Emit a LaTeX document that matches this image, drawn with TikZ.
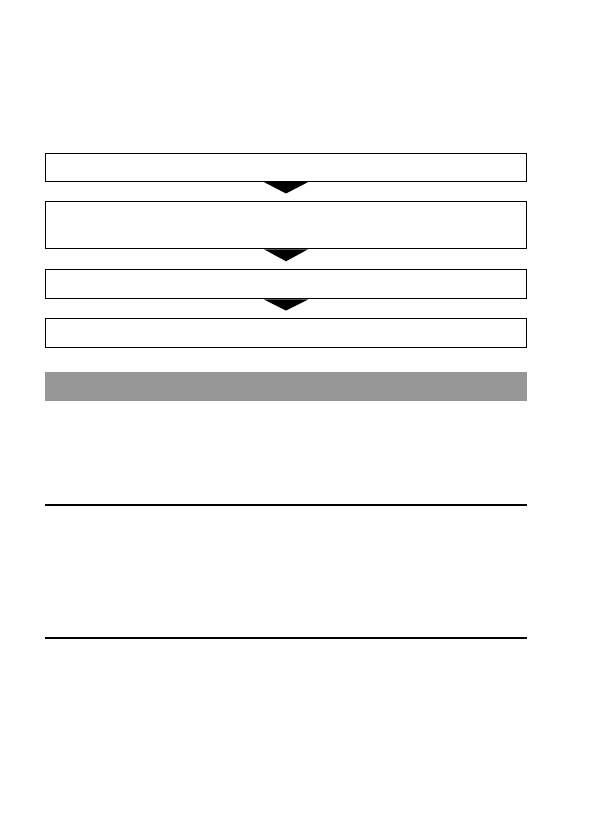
\documentclass[tikz,border=0pt]{standalone}
\usepackage{xcolor}
\usepackage{tikz}
\usetikzlibrary{positioning}
\usetikzlibrary{calc}
\definecolor{barGray}{HTML}{979797}

\begin{document}
\begin{tikzpicture}
		% ------- style -------
		\tikzset{%
			stepbox/.style={%
				draw, line width=1.2pt,
				minimum width=481pt, inner sep=0pt,
			},
			pointer/.style={fill=black},
			rule/.style={line width=1.3pt},
			node distance = 19pt,
		}
		\useasboundingbox (0,0) rectangle (596pt,840pt);
		
		% ------- flow -------
		\node[stepbox, minimum height=28pt] (s1) at (286pt,672.5pt) {};
		\node[stepbox, minimum height=47pt] (s2) [below = of s1] {};
		\node[stepbox, minimum height=29pt] (s3) [below = 20pt of s2] {};
		\node[stepbox, minimum height=29pt] (s4) [below = 18.5pt of s3] {};
		
		\foreach \a/\b in {s1/s2, s2/s3, s3/s4} {
			\fill[pointer] ($(\a.south)+(-22pt,0)$) -- ($(\a.south)+(22pt,0)$) -- ($(\a.south)!0.6!(\b.north)$) -- cycle;
		}
		
		% ------- section -------
		\node[fill=barGray, minimum width=482pt, minimum height=29pt, inner sep=0pt] (bar) [below = 23.5pt of s4] {};
		
		\draw[rule] ([yshift=-104pt]bar.south west) -- ([yshift=-104pt]bar.south east);
		\draw[rule] ([yshift=-237pt]bar.south west) -- ([yshift=-237pt]bar.south east);
	\end{tikzpicture}
\end{document}
